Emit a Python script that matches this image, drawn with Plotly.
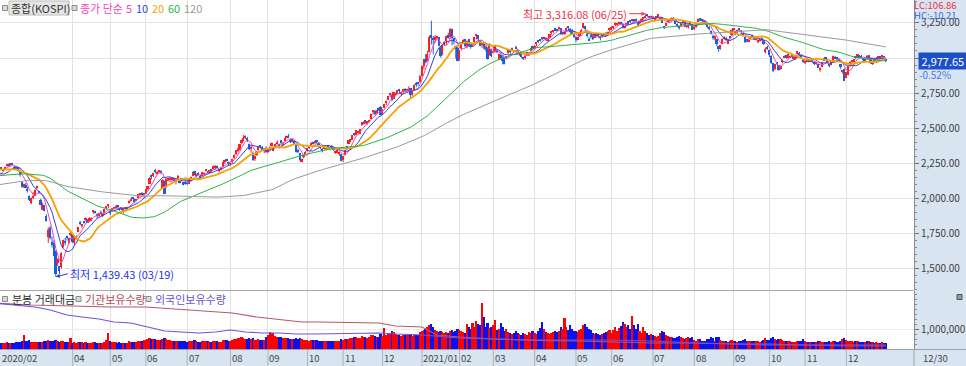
import numpy as np
import pandas as pd
import plotly.graph_objects as go

# ------------------------------------------------------------------ data
# KOSPI closes before the visible window (used only to seed the moving averages)
warmup_close = [
    2018, 1998, 1947, 1917, 1910, 1920, 1943, 1943, 1926, 1939, 1927, 1939, 1961, 1965, 1951, 1948, 1917, 1934, 1941, 1933, 1968,
    1970, 1966, 1988, 2004, 2010, 2019, 2032, 2032, 2049, 2062, 2070, 2091, 2080, 2101, 2092, 2098, 2067, 2063, 2063,
    2072, 2031, 2021, 2021, 2046, 2044, 2084, 2082, 2068, 2078, 2069, 2061, 2088, 2086, 2091, 2081, 2092, 2093, 2084, 2080, 2083,
    2100, 2131, 2144, 2142, 2137, 2140, 2124, 2140, 2123, 2162, 2161, 2152, 2125, 2128, 2102, 2124, 2121, 2114, 2101, 2089, 2088,
    2091, 2069, 2060, 2068, 2081, 2099, 2101, 2105, 2106, 2137, 2170, 2196, 2196, 2176, 2204, 2203, 2198, 2195, 2204, 2198,
    2176, 2176, 2156, 2176, 2151, 2187, 2206, 2230, 2238, 2232, 2248, 2250, 2262, 2240, 2268, 2246, 2177, 2186, 2148, 2119,
]

close = [
    2119, 2157, 2165, 2227, 2212, 2201, 2223, 2238, 2232, 2243, 2242, 2208, 2210, 2196, 2162, 2079, 2103, 2076, 2054, 1987,
    2002, 2014, 2059, 2086, 2040, 1954, 1962, 1908, 1834, 1771, 1715, 1672, 1591, 1457.64, 1566, 1482, 1609, 1704, 1686, 1717, 1718, 1755,
    1685, 1725, 1725, 1792, 1823, 1807, 1826, 1861, 1825, 1857, 1857, 1914, 1898, 1880, 1897, 1890, 1889, 1922, 1934, 1947,
    1895, 1928, 1929, 1945, 1935, 1922, 1924, 1925, 1927, 1938, 1980, 1990, 1999, 1970, 1994, 2030, 2031, 2028, 2030,
    2065, 2087, 2147, 2151, 2181, 2184, 2189, 2195, 2177, 2132, 2031, 2139, 2142, 2141, 2141, 2126, 2131, 2161, 2113, 2134, 2093, 2108,
    2106, 2136, 2152, 2187, 2165, 2164, 2168, 2150, 2186, 2183, 2201, 2183, 2201, 2198, 2228, 2229, 2217, 2200, 2217, 2256, 2263, 2267, 2249,
    2251, 2279, 2311, 2343, 2351, 2386, 2418, 2432, 2438, 2407, 2348, 2361, 2274, 2304, 2330, 2369, 2370, 2344, 2353, 2326,
    2349, 2363, 2396, 2368, 2385, 2401, 2375, 2396, 2397, 2428, 2444, 2436, 2407, 2413, 2389, 2333, 2333, 2273, 2279, 2308, 2328,
    2358, 2366, 2396, 2391, 2404, 2403, 2381, 2362, 2341, 2361, 2358, 2370, 2356, 2360, 2344, 2331, 2345, 2327, 2267,
    2301, 2344, 2358, 2413, 2416, 2448, 2453, 2485, 2476, 2494, 2543, 2544, 2546, 2548, 2554, 2603, 2617, 2602, 2626, 2633, 2591,
    2634, 2673, 2696, 2731, 2745, 2701, 2756, 2747, 2770, 2762, 2757, 2772, 2771, 2773, 2779, 2734, 2760, 2806, 2808, 2820, 2873,
    2944, 2991, 2968, 3031, 3152, 3148, 3125, 3149, 3150, 3085, 3014, 3092, 3114, 3160, 3141, 3209, 3141, 3122, 3069, 2976,
    3056, 3097, 3130, 3088, 3121, 3092, 3085, 3100, 3147, 3164, 3134, 3087, 3107, 3080, 3071, 2995, 3100, 3013,
    3043, 3083, 3044, 3027, 2997, 2977, 2959, 3014, 3055, 3046, 3068, 3048, 3067, 3039, 3036, 3005, 2997, 3009, 3042, 3037, 3072, 3061,
    3087, 3112, 3121, 3128, 3138, 3143, 3132, 3135, 3170, 3183, 3195, 3199, 3199, 3221, 3172, 3177, 3187, 3217, 3215, 3182, 3174, 3148,
    3128, 3148, 3178, 3198, 3249, 3209, 3162, 3123, 3153, 3134, 3173, 3162, 3157, 3144, 3168, 3166, 3165, 3189, 3204,
    3221, 3224, 3248, 3241, 3253, 3247, 3217, 3224, 3249, 3253, 3259, 3278, 3265, 3268, 3240, 3264, 3277, 3286, 3302, 3302, 3286, 3297,
    3282, 3282, 3294, 3305, 3286, 3253, 3218, 3247, 3272, 3265, 3286, 3277, 3245, 3233, 3216, 3251, 3255, 3224, 3232, 3237, 3243, 3203,
    3224, 3237, 3280, 3276, 3270, 3260, 3244, 3221, 3209, 3172, 3143, 3158, 3097, 3061, 3091, 3139, 3147, 3129, 3134, 3144, 3200,
    3208, 3176, 3201, 3204, 3188, 3163, 3115, 3125, 3128, 3149, 3154, 3131, 3141, 3128, 3126, 3134, 3098, 3061, 3069,
    3019, 2962, 2909, 2959, 2956, 2916, 2944, 2988, 3015, 3007, 3029, 3013, 3008, 3006, 3021, 3050, 3026, 3010, 2971,
    2979, 2989, 2976, 2984, 2970, 2961, 2963, 2930, 2925, 2969, 2999, 2998, 2962, 2947, 2972, 3014, 2998, 2995, 2981, 2937, 2910, 2839,
    2900, 2946, 2968, 2973, 2991, 3001, 3029, 3010, 3002, 2988, 2989, 3006, 3018, 2964, 2975, 2985, 2999, 3012, 3000, 3020, 2993.29, 2977.65,
]

open_ = [
    2133, 2124, 2167, 2183, 2213, 2195, 2206, 2232, 2240, 2237, 2245, 2225, 2219, 2218, 2185, 2117, 2078, 2091, 2058, 2015,
    1966, 2008, 2017, 2073, 2050, 1990, 1919, 1951, 1873, 1720, 1788, 1686, 1678, 1626, 1539, 1513, 1507, 1653, 1690, 1723, 1684, 1738,
    1737, 1677, 1715, 1762, 1830, 1803, 1829, 1844, 1841, 1833, 1840, 1899, 1901, 1890, 1870, 1905, 1877, 1893, 1932, 1945,
    1906, 1910, 1926, 1934, 1950, 1928, 1935, 1909, 1934, 1920, 1972, 1985, 2003, 1993, 1982, 2003, 2026, 2038, 2023,
    2033, 2067, 2104, 2167, 2158, 2200, 2178, 2193, 2193, 2069, 2123, 2077, 2123, 2136, 2133, 2144, 2114, 2141, 2121, 2135, 2117, 2115,
    2113, 2104, 2141, 2158, 2192, 2161, 2178, 2158, 2160, 2172, 2195, 2189, 2180, 2205, 2210, 2222, 2230, 2195, 2204, 2225, 2260, 2275, 2259,
    2246, 2260, 2288, 2313, 2338, 2346, 2391, 2418, 2433, 2427, 2390, 2351, 2322, 2281, 2310, 2343, 2375, 2365, 2338, 2359,
    2328, 2352, 2373, 2337, 2371, 2392, 2380, 2412, 2385, 2409, 2431, 2446, 2418, 2412, 2408, 2376, 2339, 2321, 2261, 2295, 2319,
    2334, 2360, 2384, 2398, 2396, 2411, 2396, 2364, 2354, 2355, 2356, 2377, 2357, 2365, 2363, 2329, 2324, 2319, 2313,
    2269, 2307, 2371, 2389, 2413, 2418, 2462, 2452, 2468, 2461, 2523, 2533, 2549, 2535, 2550, 2566, 2615, 2625, 2605, 2636, 2652,
    2605, 2643, 2681, 2703, 2740, 2738, 2710, 2737, 2749, 2778, 2744, 2769, 2772, 2770, 2767, 2783, 2737, 2770, 2810, 2822, 2827,
    2874, 2943, 2993, 2980, 3041, 3161, 3145, 3128, 3145, 3148, 3072, 3030, 3103, 3121, 3163, 3150, 3209, 3145, 3083, 3069,
    2990, 3068, 3102, 3135, 3078, 3134, 3095, 3093, 3115, 3161, 3162, 3127, 3099, 3111, 3076, 3071, 3023, 3066,
    3042, 3049, 3057, 2988, 3025, 3004, 2993, 2997, 3035, 3050, 3057, 3058, 3081, 3054, 3030, 3046, 3000, 3004, 3023, 3028, 3050, 3086,
    3068, 3097, 3123, 3130, 3141, 3140, 3146, 3123, 3144, 3180, 3189, 3212, 3204, 3210, 3211, 3175, 3172, 3193, 3224, 3205, 3197, 3180,
    3148, 3134, 3156, 3188, 3211, 3231, 3172, 3139, 3161, 3160, 3145, 3168, 3174, 3152, 3155, 3173, 3177, 3169, 3202,
    3212, 3221, 3232, 3239, 3247, 3258, 3246, 3218, 3241, 3255, 3261, 3264, 3267, 3275, 3244, 3250, 3268, 3283, 3290, 3311, 3296, 3290,
    3294, 3271, 3290, 3301, 3276, 3290, 3223, 3231, 3261, 3269, 3275, 3288, 3264, 3234, 3230, 3226, 3253, 3259, 3224, 3226, 3255, 3241,
    3209, 3223, 3256, 3277, 3275, 3265, 3260, 3241, 3220, 3195, 3153, 3137, 3135, 3083, 3072, 3099, 3142, 3143, 3100, 3146, 3161,
    3203, 3194, 3183, 3208, 3197, 3180, 3150, 3126, 3121, 3139, 3162, 3147, 3130, 3113, 3124, 3135, 3126, 3043, 3075,
    3058, 3017, 2965, 2924, 2972, 2947, 2925, 2970, 3006, 3019, 3003, 3005, 3021, 2996, 2998, 3032, 3039, 3020, 2987,
    2970, 2977, 2978, 2982, 2985, 2969, 2961, 2956, 2920, 2939, 2982, 3000, 2991, 2953, 2953, 2975, 3010, 2996, 2992, 2954, 2901, 2923,
    2860, 2878, 2960, 2972, 2973, 3010, 3003, 3014, 3017, 2991, 2979, 3009, 3004, 2991, 2955, 2994, 2992, 3007, 3008, 3010, 3011, 2993,
]

high = [
    2139, 2160, 2181, 2227, 2220, 2210, 2226, 2240, 2245, 2247, 2252, 2230, 2222, 2225, 2192, 2120, 2105, 2108, 2080, 2020,
    2005, 2043, 2064, 2089, 2052, 1997, 1968, 1952, 1885, 1793, 1803, 1728, 1700, 1627, 1571, 1516, 1614, 1705, 1720, 1734, 1719, 1763,
    1745, 1726, 1735, 1792, 1838, 1815, 1836, 1863, 1851, 1864, 1862, 1916, 1910, 1891, 1897, 1912, 1894, 1924, 1940, 1956,
    1916, 1930, 1937, 1946, 1952, 1932, 1937, 1926, 1937, 1940, 1984, 1994, 2009, 1997, 1995, 2031, 2036, 2045, 2035,
    2067, 2087, 2150, 2169, 2182, 2210, 2195, 2200, 2200, 2136, 2125, 2140, 2147, 2150, 2145, 2145, 2132, 2166, 2127, 2142, 2118, 2130,
    2121, 2137, 2153, 2189, 2193, 2175, 2185, 2166, 2188, 2185, 2207, 2194, 2202, 2210, 2233, 2237, 2233, 2206, 2220, 2258, 2270, 2281, 2262,
    2260, 2282, 2313, 2343, 2361, 2386, 2418, 2450, 2447, 2437, 2390, 2374, 2333, 2307, 2338, 2372, 2375, 2372, 2358, 2370,
    2354, 2370, 2397, 2369, 2390, 2412, 2384, 2413, 2403, 2430, 2447, 2458, 2425, 2421, 2415, 2376, 2352, 2321, 2282, 2311, 2335,
    2358, 2375, 2400, 2404, 2407, 2416, 2400, 2377, 2357, 2369, 2368, 2380, 2361, 2378, 2367, 2340, 2351, 2332, 2313,
    2303, 2346, 2375, 2413, 2421, 2451, 2466, 2486, 2481, 2494, 2543, 2548, 2556, 2550, 2560, 2603, 2624, 2631, 2626, 2648, 2658,
    2634, 2673, 2697, 2731, 2752, 2745, 2756, 2752, 2772, 2780, 2759, 2774, 2785, 2781, 2799, 2784, 2762, 2812, 2829, 2829, 2878,
    2946, 2991, 3027, 3052, 3161, 3266, 3157, 3163, 3157, 3148, 3088, 3092, 3120, 3160, 3181, 3213, 3209, 3146, 3088, 3080,
    3057, 3099, 3134, 3136, 3125, 3137, 3111, 3107, 3147, 3164, 3162, 3128, 3114, 3111, 3088, 3076, 3101, 3067,
    3090, 3083, 3064, 3030, 3039, 3020, 2999, 3015, 3059, 3062, 3075, 3058, 3087, 3066, 3042, 3046, 3009, 3017, 3046, 3040, 3073, 3088,
    3091, 3116, 3129, 3135, 3145, 3152, 3148, 3145, 3172, 3184, 3198, 3215, 3208, 3221, 3212, 3184, 3191, 3218, 3224, 3214, 3208, 3181,
    3155, 3150, 3180, 3205, 3249, 3231, 3178, 3150, 3169, 3161, 3176, 3175, 3174, 3157, 3175, 3180, 3185, 3189, 3209,
    3226, 3229, 3254, 3248, 3260, 3260, 3249, 3230, 3250, 3258, 3269, 3278, 3270, 3281, 3248, 3265, 3281, 3292, 3316.08, 3312, 3300, 3303,
    3300, 3286, 3295, 3306, 3293, 3290, 3226, 3253, 3274, 3278, 3290, 3292, 3269, 3247, 3232, 3251, 3259, 3264, 3233, 3243, 3264, 3241,
    3226, 3241, 3281, 3284, 3280, 3274, 3265, 3243, 3227, 3196, 3167, 3161, 3135, 3086, 3093, 3139, 3155, 3151, 3135, 3157, 3204,
    3210, 3194, 3203, 3211, 3200, 3181, 3150, 3136, 3139, 3155, 3166, 3151, 3148, 3135, 3138, 3145, 3126, 3076, 3087,
    3059, 3019, 2965, 2959, 2972, 2950, 2947, 2989, 3018, 3022, 3030, 3017, 3030, 3011, 3022, 3050, 3044, 3028, 2992,
    2989, 2993, 2985, 2997, 2988, 2974, 2970, 2956, 2934, 2970, 3000, 3008, 2993, 2960, 2973, 3016, 3015, 3003, 2999, 2958, 2915, 2925,
    2900, 2946, 2977, 2984, 2993, 3012, 3029, 3017, 3023, 2993, 2990, 3021, 3019, 2991, 2977, 2999, 3007, 3015, 3010, 3020, 3011, 3000,
]

low = [
    2098, 2120, 2155, 2183, 2200, 2191, 2200, 2225, 2225, 2233, 2235, 2201, 2200, 2190, 2154, 2075, 2073, 2070, 2041, 1980,
    1958, 1994, 2015, 2065, 2034, 1949, 1917, 1906, 1833, 1680, 1706, 1648, 1591, 1439.43, 1517, 1458, 1497, 1647, 1663, 1697, 1674, 1727,
    1682, 1664, 1704, 1760, 1807, 1789, 1819, 1835, 1823, 1830, 1836, 1889, 1890, 1857, 1866, 1884, 1865, 1891, 1918, 1930,
    1879, 1905, 1918, 1931, 1932, 1909, 1915, 1890, 1912, 1914, 1960, 1976, 1994, 1965, 1978, 1997, 2014, 2020, 2004,
    2031, 2060, 2101, 2135, 2151, 2176, 2170, 2179, 2170, 2067, 2030, 2075, 2122, 2125, 2125, 2121, 2098, 2138, 2105, 2120, 2092, 2096,
    2096, 2101, 2133, 2158, 2164, 2146, 2162, 2143, 2157, 2163, 2191, 2176, 2179, 2188, 2202, 2208, 2213, 2184, 2196, 2221, 2244, 2261, 2234,
    2232, 2252, 2282, 2307, 2328, 2342, 2385, 2405, 2424, 2400, 2342, 2325, 2267, 2266, 2302, 2340, 2355, 2337, 2320, 2323,
    2320, 2340, 2369, 2335, 2365, 2387, 2354, 2389, 2374, 2404, 2426, 2432, 2394, 2399, 2386, 2326, 2320, 2267, 2256, 2285, 2315,
    2331, 2351, 2376, 2383, 2387, 2392, 2378, 2349, 2327, 2347, 2340, 2353, 2343, 2351, 2338, 2317, 2320, 2301, 2263,
    2258, 2305, 2341, 2386, 2401, 2417, 2441, 2449, 2462, 2458, 2517, 2527, 2533, 2525, 2539, 2563, 2596, 2592, 2602, 2622, 2591,
    2595, 2641, 2665, 2700, 2721, 2691, 2708, 2725, 2742, 2743, 2730, 2743, 2758, 2752, 2761, 2712, 2732, 2770, 2792, 2803, 2825,
    2869, 2919, 2962, 2980, 3040, 3096, 3026, 3108, 3124, 3085, 3003, 3019, 3086, 3093, 3138, 3136, 3090, 3096, 2997, 2976,
    2982, 3054, 3099, 3074, 3069, 3082, 3067, 3080, 3109, 3132, 3121, 3083, 3070, 3060, 3047, 2988, 3017, 3006,
    3036, 3039, 3032, 2988, 2990, 2953, 2955, 2992, 3030, 3031, 3054, 3037, 3064, 3026, 3015, 3001, 2986, 2989, 3020, 3015, 3045, 3056,
    3063, 3084, 3106, 3117, 3125, 3132, 3125, 3118, 3137, 3167, 3179, 3193, 3189, 3201, 3163, 3164, 3166, 3192, 3197, 3166, 3170, 3143,
    3112, 3125, 3150, 3180, 3211, 3193, 3147, 3121, 3138, 3128, 3143, 3154, 3145, 3125, 3145, 3158, 3161, 3158, 3180,
    3197, 3208, 3227, 3227, 3236, 3237, 3211, 3210, 3226, 3242, 3250, 3259, 3250, 3256, 3221, 3242, 3260, 3274, 3288, 3294, 3282, 3282,
    3277, 3260, 3280, 3290, 3268, 3252, 3206, 3228, 3254, 3257, 3270, 3269, 3240, 3219, 3202, 3220, 3239, 3221, 3213, 3209, 3240, 3202,
    3201, 3214, 3256, 3263, 3264, 3251, 3236, 3213, 3196, 3167, 3130, 3126, 3086, 3044, 3060, 3098, 3130, 3122, 3098, 3133, 3156,
    3187, 3162, 3176, 3193, 3170, 3155, 3107, 3112, 3112, 3133, 3145, 3129, 3126, 3105, 3116, 3122, 3093, 3031, 3059,
    3008, 2958, 2901, 2912, 2951, 2909, 2917, 2962, 3002, 2996, 2998, 3000, 3003, 2987, 2987, 3024, 3015, 3005, 2966,
    2956, 2970, 2969, 2971, 2965, 2950, 2952, 2929, 2902, 2935, 2978, 2987, 2960, 2935, 2948, 2974, 2993, 2981, 2980, 2920, 2889, 2839,
    2858, 2876, 2936, 2957, 2966, 2991, 3000, 2996, 2999, 2976, 2970, 2998, 2995, 2956, 2950, 2976, 2984, 2999, 2991, 3001, 2991, 2971,
]

# trading value bars (thousands of units)
value_k = [
    320, 300, 310, 350, 290, 280, 300, 330, 310, 300, 290, 320, 330, 340, 360, 420, 700, 380, 400, 450,
    350, 330, 340, 360, 330, 370, 360, 380, 400, 430, 400, 380, 400, 450, 420, 360, 400, 420, 360, 340, 330, 550,
    320, 330, 300, 340, 360, 330, 320, 350, 300, 310, 300, 360, 330, 320, 310, 300, 290, 330, 450, 800,
    380, 350, 330, 340, 320, 330, 310, 320, 300, 310, 380, 350, 360, 330, 330, 420, 380, 400, 450,
    450, 480, 550, 500, 480, 520, 470, 460, 440, 520, 560, 500, 460, 450, 420, 400, 400, 420, 380, 390, 400, 380,
    370, 380, 390, 420, 430, 380, 370, 360, 380, 400, 420, 380, 360, 370, 420, 410, 380, 360, 370, 430, 450, 440, 420,
    420, 450, 500, 520, 540, 560, 600, 560, 520, 500, 550, 480, 560, 470, 450, 480, 460, 440, 450, 600,
    700, 850, 780, 800, 650, 600, 620, 580, 560, 540, 560, 560, 520, 500, 480, 560, 500, 560, 480, 460, 440,
    440, 420, 460, 450, 430, 440, 420, 400, 410, 400, 390, 400, 380, 390, 400, 410, 390, 420, 500,
    450, 480, 500, 520, 540, 560, 600, 580, 540, 560, 650, 620, 600, 560, 580, 700, 680, 650, 620, 600, 750,
    650, 1050, 680, 750, 800, 900, 850, 750, 700, 680, 650, 700, 680, 700, 720, 760, 650, 700, 680, 700, 850,
    900, 950, 1000, 1100, 1200, 1250, 1100, 950, 900, 850, 900, 850, 800, 850, 800, 900, 950, 850, 900, 1000,
    950, 900, 850, 800, 1250, 1100, 1000, 1300, 1100, 1400, 1250, 1200, 2300, 1600, 1100, 1300, 1050, 1100,
    1200, 1450, 950, 1000, 1300, 1100, 900, 1000, 850, 800, 750, 800, 900, 780, 750, 700, 800, 750, 700, 850, 780, 900,
    800, 750, 900, 1050, 1350, 1000, 850, 800, 750, 800, 850, 900, 850, 900, 1100, 1000, 1550, 1100, 950, 1200, 1000, 900,
    900, 850, 950, 1000, 1200, 1250, 1100, 1000, 950, 800, 750, 800, 750, 700, 750, 800, 850, 900, 950,
    800, 950, 1100, 900, 1050, 1150, 1350, 1250, 1100, 1200, 1000, 1650, 1200, 1000, 1250, 900, 800, 1100, 900, 800, 700, 750,
    700, 650, 600, 650, 800, 900, 850, 700, 650, 600, 600, 550, 550, 600, 650, 600, 550, 500, 550, 600, 550, 600,
    450, 420, 500, 480, 420, 400, 420, 480, 520, 600, 550, 420, 580, 620, 450, 420, 400, 380, 360, 380, 460,
    400, 380, 360, 380, 400, 450, 520, 420, 380, 400, 420, 400, 380, 380, 360, 380, 450, 550, 450,
    450, 550, 620, 500, 450, 520, 480, 450, 420, 400, 420, 380, 360, 350, 360, 420, 400, 380, 480,
    380, 350, 360, 340, 360, 330, 340, 380, 400, 360, 350, 340, 360, 380, 350, 400, 380, 360, 340, 420, 480, 550,
    450, 420, 400, 380, 360, 380, 400, 360, 350, 340, 360, 380, 400, 360, 330, 320, 340, 300, 280, 340, 320, 300,
]

inst_dates = ["2020-02-03", "2020-03-02", "2020-04-01", "2020-05-04", "2020-06-01", "2020-07-07", "2020-08-04",
              "2020-08-24", "2020-09-11", "2020-09-25", "2020-10-14", "2020-11-27", "2020-12-10", "2021-01-04",
              "2021-01-14", "2021-02-01", "2021-03-02", "2021-04-01", "2021-05-03", "2021-06-01", "2021-07-01",
              "2021-08-02", "2021-09-01", "2021-10-01", "2021-11-01", "2021-12-01", "2021-12-30"]
inst_k = [2300, 2200, 2150, 2100, 2100, 1950, 1800, 1600, 1450, 1350, 1350, 1300, 1150, 1100,
          700, 600, 500, 430, 400, 350, 300, 300, 250, 250, 200, 200, 200]

frgn_dates = ["2020-02-03", "2020-03-04", "2020-03-16", "2020-03-27", "2020-04-08", "2020-04-22", "2020-05-07",
              "2020-05-20", "2020-06-02", "2020-06-15", "2020-06-26", "2020-07-09", "2020-07-22", "2020-08-03",
              "2020-08-13", "2020-08-27", "2020-09-09", "2020-09-22", "2020-10-12", "2020-11-27", "2020-12-10",
              "2021-01-04", "2021-02-01", "2021-03-02", "2021-04-01", "2021-05-03", "2021-06-01", "2021-07-01",
              "2021-08-02", "2021-09-01", "2021-10-01", "2021-11-01", "2021-12-01", "2021-12-30"]
frgn_k = [2300, 2100, 1950, 1700, 1600, 1500, 1350, 1300, 1100, 900, 850, 800, 850, 950,
          850, 800, 800, 750, 750, 800, 750, 700, 550, 500, 450, 450, 450, 400,
          300, 250, 200, 200, 150, 150]

holidays = ["2019-08-15", "2019-09-12", "2019-09-13", "2019-10-03", "2019-10-09", "2019-12-25", "2019-12-31",
            "2020-01-01", "2020-01-24", "2020-01-27", "2020-04-15", "2020-04-30", "2020-05-01", "2020-05-05",
            "2020-08-17", "2020-09-30", "2020-10-01", "2020-10-02", "2020-10-09", "2020-12-25", "2020-12-31",
            "2021-01-01", "2021-02-11", "2021-02-12", "2021-03-01", "2021-05-05", "2021-05-19", "2021-08-16",
            "2021-09-20", "2021-09-21", "2021-09-22", "2021-10-04", "2021-10-11"]

ma_periods = [5, 10, 20, 60, 120]
ma_colors = ["#f048b8", "#3446d0", "#f5a300", "#2fb24a", "#9a9a9a"]
ma_widths = [1, 1, 1.8, 1, 1]

# ------------------------------------------------------------------ derived
n = min(len(open_), len(high), len(low), len(close), len(value_k))
o = np.array(open_[:n], float)
h = np.array(high[:n], float)
l = np.array(low[:n], float)
c = np.array(close[:n], float)
v = np.array(value_k[:n], float) * 1000

all_days = pd.bdate_range("2019-08-01", "2021-12-30")
all_days = all_days[~all_days.isin(pd.to_datetime(holidays))]
vis_dates = all_days[-n:]
x = np.arange(n)

full = pd.Series(list(map(float, warmup_close)) + list(c))
mas = [full.rolling(p).mean().to_numpy()[len(warmup_close):] for p in ma_periods]

prev = np.concatenate([[warmup_close[-1]], c[:-1]])
up = np.where(c > o, True, np.where(c < o, False, c >= prev))
RED, BLUE = "#ff1e1e", "#1a5ee0"
VRED, VBLUE = "#ff0000", "#0b10f0"
cols = np.where(up, RED, BLUE)
vcols = np.where(up, VRED, VBLUE)

# layout geometry (pixels)
W, H = 966, 366
PW, PH = 914, 349          # plot area (paper) size
X_RANGE = [3.3, 490.0]
scale = PW / (X_RANGE[1] - X_RANGE[0])
FONT = "Noto Sans CJK KR, Noto Sans, sans-serif"


def fx(px):
    return px / PW


def fy(py):
    return 1 - py / PH


fig = go.Figure()

# candle wicks
for flag, col in ((True, RED), (False, BLUE)):
    xs, ys = [], []
    for i in np.where(up == flag)[0]:
        xs += [i, i, None]
        ys += [l[i], h[i], None]
    fig.add_trace(go.Scatter(x=xs, y=ys, mode="lines", line=dict(color=col, width=1),
                             hoverinfo="skip", xaxis="x", yaxis="y"))

# candle bodies
fig.add_trace(go.Bar(x=x, y=np.maximum(np.abs(c - o), 7), base=np.minimum(o, c),
                     marker=dict(color=cols, line_width=0), width=0.9, xaxis="x", yaxis="y"))

# moving averages
for p, m, col, w in zip(ma_periods, mas, ma_colors, ma_widths):
    fig.add_trace(go.Scatter(x=x, y=m, mode="lines", line=dict(color=col, width=w),
                             name=f"MA{p}", xaxis="x", yaxis="y"))

# trading value
fig.add_trace(go.Bar(x=x, y=v, marker=dict(color=vcols, line_width=0), width=0.9,
                     xaxis="x2", yaxis="y2"))

# holdings lines
inst_x = vis_dates.get_indexer(pd.to_datetime(inst_dates), method="nearest")
frgn_x = vis_dates.get_indexer(pd.to_datetime(frgn_dates), method="nearest")
fig.add_trace(go.Scatter(x=inst_x, y=np.array(inst_k) * 1000, mode="lines",
                         line=dict(color="#b25a6a", width=1.2), xaxis="x2", yaxis="y2"))
fig.add_trace(go.Scatter(x=frgn_x, y=np.array(frgn_k) * 1000, mode="lines",
                         line=dict(color="#6a56dc", width=1.2), xaxis="x2", yaxis="y2"))

# month starts / labels
month_idx = [i for i in range(n) if i == 0 or vis_dates[i].month != vis_dates[i - 1].month]
labels = []
prev_end = -1e9
for i in month_idx:
    d = vis_dates[i]
    txt = f"{d.year}/{d.month:02d}" if (i == 0 or d.month == 1) else f"{d.month:02d}"
    pos = max((i - X_RANGE[0]) * scale, 0)
    if pos < prev_end:
        continue
    prev_end = pos + 5.0 * len(txt) + 1
    labels.append((i, pos, txt))
grid_x = [i for i, pos, t in labels if i > 0]

annotations = []
shapes = []


def text(px, py, s, color, size=11, anchor="left"):
    annotations.append(dict(x=fx(px), y=fy(py), xref="paper", yref="paper", text=s, showarrow=False,
                            xanchor=anchor, yanchor="middle", borderpad=0,
                            font=dict(family=FONT, size=size, color=color)))


# bottom band labels
for i, pos, t in labels:
    text(pos + 0.5, 357.5, t, "#454545", 9.5)
text(PW + 8, 357.5, f"{vis_dates[-1]:%m/%d}", "#454545", 9.5)
for i in grid_x:
    shapes.append(dict(type="line", xref="x", yref="paper", x0=i, x1=i, y0=fy(366), y1=fy(PH),
                       line=dict(color="#a9b3c0", width=1)))
shapes.append(dict(type="line", xref="paper", yref="paper", x0=0, x1=fx(W), y0=fy(PH + 0.5), y1=fy(PH + 0.5),
                   line=dict(color="#9aa4b0", width=1)))
shapes.append(dict(type="line", xref="paper", yref="paper", x0=1, x1=1, y0=fy(366), y1=fy(PH),
                   line=dict(color="#9aa4b0", width=1)))
# panel separator
shapes.append(dict(type="line", xref="paper", yref="paper", x0=0, x1=1, y0=fy(290.5), y1=fy(290.5),
                   line=dict(color="#a8a8a8", width=1)))


def icon(px, py):
    shapes.append(dict(type="rect", xref="paper", yref="paper", x0=fx(px), x1=fx(px + 5),
                       y0=fy(py + 2.5), y1=fy(py - 2.5), line=dict(color="#8c8c8c", width=1),
                       fillcolor="#d8d8d8"))


# top legend
icon(2.5, 8)
shapes.append(dict(type="rect", xref="paper", yref="paper", x0=fx(9), x1=fx(69), y0=fy(15), y1=fy(1),
                   line=dict(color="#bcbcbc", width=1), fillcolor="#e6e6e6"))
text(10, 8, "종합(KOSPI)", "#333333", 11)
icon(72, 8)
text(79, 8, "종가 단순", ma_colors[0], 11)
legend_pos = [125, 135, 151, 167, 183]
for p, col, xp in zip(ma_periods, ma_colors, legend_pos):
    text(xp, 8, str(p), col, 11)

# volume legend
icon(2.5, 299)
text(11, 299, "분봉 거래대금", "#303030", 11)
icon(76, 299)
text(84, 299, "기관보유수량", "#b04a5a", 11)
icon(146, 299)
text(154, 299, "외국인보유수량", "#6a4fd0", 11)

# high / low annotations
hi = int(np.argmax(h))
lo = int(np.argmin(l))
annotations.append(dict(x=hi, y=h[hi], xref="x", yref="y", ax=-16, ay=0, showarrow=True, arrowhead=2,
                        arrowsize=0.8, arrowwidth=1, arrowcolor="#f0304a", xanchor="right", yanchor="middle",
                        text=f"최고 {h[hi]:,.2f} ({vis_dates[hi]:%m/%d})",
                        font=dict(family=FONT, size=11, color="#f0304a")))
annotations.append(dict(x=lo, y=l[lo], xref="x", yref="y", ax=12, ay=-3, showarrow=True, arrowhead=2,
                        arrowsize=0.8, arrowwidth=1, arrowcolor="#2a36e0", xanchor="left", yanchor="middle",
                        text=f"최저 {l[lo]:,.2f} ({vis_dates[lo]:%m/%d})",
                        font=dict(family=FONT, size=11, color="#2a36e0")))

# right-side readouts
last = c[-1]
pct = (last / c[-2] - 1) * 100
lc = (last / l[lo] - 1) * 100
hc = (last / h[hi] - 1) * 100
text(PW - 1, 5.5, f"LC:{lc:.2f}", "#e8363c", 9.5)
text(PW - 1, 14.5, f"HC:{hc:.2f}", "#3a6ae0", 9.5)
annotations.append(dict(x=1, y=last, xref="paper", yref="y", xanchor="left", yanchor="middle", xshift=4,
                        text=f" {last:,.2f} ", showarrow=False, bgcolor="#1d4fc6", borderpad=0,
                        font=dict(family=FONT, size=11, color="white")))
annotations.append(dict(x=1, y=last, xref="paper", yref="y", xanchor="left", yanchor="middle", xshift=4,
                        yshift=-13, text=f"{pct:.2f}%", showarrow=False, borderpad=0,
                        font=dict(family=FONT, size=10, color="#4a78e6")))

# small panel icon
shapes.append(dict(type="rect", xref="paper", yref="paper", x0=fx(957), x1=fx(962), y0=fy(299.5), y1=fy(294.5),
                   line=dict(color="#505050", width=1), fillcolor="#9a9a9a"))

price_ticks = [1500, 1750, 2000, 2250, 2500, 2750, 3000, 3250]
vol_ticks = [1000000]
# the 3,000 label sits under the current-price box, as in the source chart
price_text = ["" if abs(t - last) < 60 else f"{t:,.2f}" for t in price_ticks]

axis_common = dict(range=X_RANGE, tickvals=grid_x, showticklabels=False, ticks="", showgrid=True,
                   gridcolor="#e0e0e0", gridwidth=1, zeroline=False, showline=False, automargin=False,
                   fixedrange=True)

fig.update_layout(
    width=W, height=H,
    margin=dict(l=0, r=W - PW, t=0, b=H - PH),
    paper_bgcolor="#d9e4f1",
    plot_bgcolor="white",
    showlegend=False,
    barmode="overlay",
    bargap=0,
    font=dict(family=FONT, size=10, color="#404040"),
    xaxis=dict(domain=[0, 1], anchor="y", **axis_common),
    xaxis2=dict(domain=[0, 1], anchor="y2", matches="x", **axis_common),
    yaxis=dict(domain=[fy(290), 1], range=[1345.2, 3413.7], side="right", tickvals=price_ticks,
               ticktext=price_text, ticks="outside", ticklen=4, tickcolor="#707070",
               showline=True, linecolor="#8a8a8a", linewidth=1, showgrid=True, gridcolor="#e4e4e4",
               zeroline=False, automargin=False, tickfont=dict(size=10, color="#404040"),
               minor=dict(dtick=50, ticks="outside", ticklen=2, tickcolor="#8a8a8a", showgrid=False)),
    yaxis2=dict(domain=[0, fy(291)], range=[0, 2900000], side="right", tickvals=vol_ticks,
                ticktext=[f"{t:,}" for t in vol_ticks], ticks="outside", ticklen=4, tickcolor="#707070",
                showline=True, linecolor="#8a8a8a", linewidth=1, showgrid=True, gridcolor="#ececec",
                zeroline=False, automargin=False, tickfont=dict(size=10, color="#404040"),
                minor=dict(dtick=250000, ticks="outside", ticklen=2, tickcolor="#8a8a8a", showgrid=False)),
    annotations=annotations,
    shapes=shapes,
)

fig.write_html("out.html", config={"displayModeBar": False},
               post_script="document.body.style.margin='0';document.body.style.overflow='hidden';")
